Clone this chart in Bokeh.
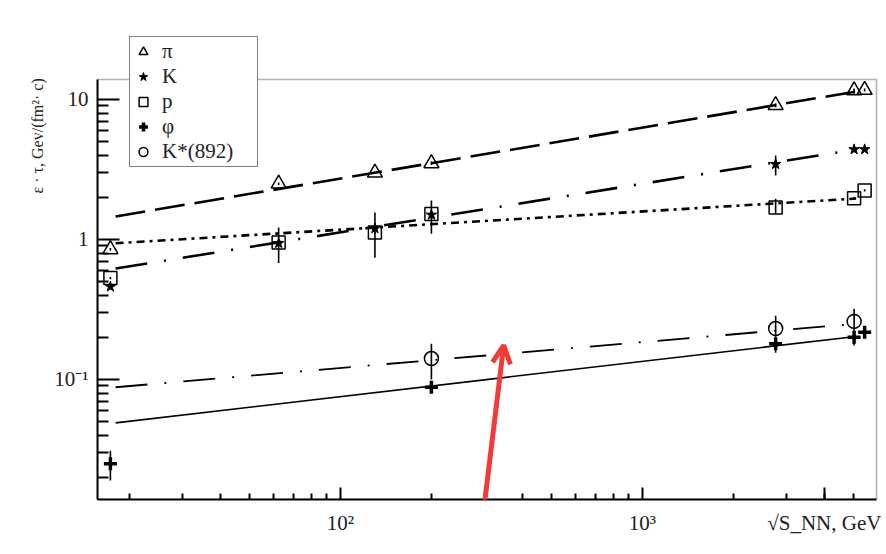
import math
from bokeh.plotting import figure
from bokeh.models import (ColumnDataSource, FixedTicker, Range1d, Legend, LegendItem,
                          LogAxis, Arrow, OpenHead, BoxAnnotation)
from bokeh.embed import file_html
from bokeh.resources import INLINE

# ---------------- data ----------------
sqrt_s = [17.3, 62.4, 130, 200, 2760, 5020, 5440]
pi_y = [0.85, 2.5, 3.0, 3.5, 9.1, 11.6, 11.7]
pi_lo = [0.83, 2.45, 2.95, 3.4, 8.8, 11.0, 11.4]
pi_hi = [0.87, 2.55, 3.05, 3.6, 9.4, 12.0, 12.0]

K_y = [0.46, 0.94, 1.2, 1.5, 3.45, 4.4, 4.4]
K_lo = [0.44, 0.68, 0.74, 1.1, 2.86, 4.2, 4.3]
K_hi = [0.48, 1.22, 1.56, 1.9, 3.98, 4.6, 4.5]

p_y = [0.53, 0.95, 1.12, 1.52, 1.69, 1.97, 2.24]
p_lo = [0.52, 0.93, 1.1, 1.48, 1.53, 1.93, 2.2]
p_hi = [0.54, 0.97, 1.14, 1.56, 1.95, 2.01, 2.28]

phi_x = [17.3, 200, 2760, 5020, 5440]
phi_y = [0.025, 0.088, 0.18, 0.2, 0.217]
phi_lo = [0.019, 0.082, 0.155, 0.175, 0.205]
phi_hi = [0.031, 0.095, 0.196, 0.225, 0.23]

kst_x = [200, 2760, 5020]
kst_y = [0.141, 0.231, 0.26]
kst_lo = [0.1, 0.2, 0.225]
kst_hi = [0.18, 0.285, 0.32]

fit_x = [18, 5100]
pi_fit = [1.46, 11.4]
K_fit = [0.62, 4.4]
p_fit = [0.94, 1.96]
kst_fit = [0.088, 0.25]
phi_fit = [0.049, 0.203]

x_major = [100, 1000]
x_major_labels = ["10\u00b2", "10\u00b3"]
y_major = [0.1, 1, 10]
y_major_labels = ["10\u207b\u00b9", "1", "10"]

x_title = "\u221aS_NN, GeV"
x_title_at = 4000
y_title = "\u03b5 \u00b7 \u03c4, Gev/(fm\u00b2\u00b7 c)"
y_title_at = 5.5

arrow_x = [286, 347]
arrow_y = [0.0056, 0.175]

# ---------------- geometry ----------------
W, H = 886, 554
X0, X1 = 15.68, 5955.0       # visible box of the plot (left/right)
Y0, Y1 = 0.01389, 13.89      # visible box of the plot (bottom/top)
FL, FR, FT, FB = 97, 876, 79, 499   # that box in page pixels

lx0, lx1 = math.log10(X0), math.log10(X1)
ly0, ly1 = math.log10(Y0), math.log10(Y1)
# the drawing frame extends to the right edge and to the top edge of the page
X1e = 10 ** (lx1 + (W - FR) / (FR - FL) * (lx1 - lx0))
Y1e = 10 ** (ly1 + FT / (FB - FT) * (ly1 - ly0))

p = figure(width=W, height=H, x_axis_type="log", y_axis_type="log",
           x_range=Range1d(X0, X1e), y_range=Range1d(Y0, Y1e),
           output_backend="svg", toolbar_location=None,
           min_border_left=FL, min_border_right=0,
           min_border_top=0, min_border_bottom=H - FB)
p.xgrid.visible = False
p.ygrid.visible = False
p.background_fill_color = "white"
p.border_fill_color = "white"
p.outline_line_color = None

FONT = "Liberation Serif"
TXT = "#222222"

xminor = [m * d for d in (10, 100, 1000) for m in range(2, 10) if X0 < m * d < X1]
yminor = [m * d for d in (0.01, 0.1, 1, 10) for m in range(2, 10) if Y0 < m * d < Y1]
p.xaxis.ticker = FixedTicker(ticks=x_major + [x_title_at], minor_ticks=xminor)
p.yaxis.ticker = FixedTicker(ticks=y_major, minor_ticks=yminor)
xl = dict(zip(x_major, x_major_labels))
xl[x_title_at] = x_title
p.xaxis.major_label_overrides = xl
p.yaxis.major_label_overrides = dict(zip(y_major, y_major_labels))
p.xaxis.bounds = (X0, X1)
p.yaxis.bounds = (Y0, Y1)

for ax in (p.xaxis, p.yaxis):
    ax.axis_line_width = 2
    ax.axis_line_color = "black"
    ax.major_tick_line_color = "black"
    ax.minor_tick_line_color = "black"
    ax.major_tick_line_width = 2
    ax.minor_tick_line_width = 2
    ax.major_tick_out = 0
    ax.minor_tick_out = 0
    ax.major_label_text_font = FONT
    ax.major_label_text_font_size = "21px"
    ax.major_label_text_color = TXT
p.xaxis.major_tick_in = 12
p.xaxis.minor_tick_in = 6
p.yaxis.major_tick_in = 22
p.yaxis.minor_tick_in = 11
p.xaxis.major_label_standoff = 11
p.yaxis.major_label_standoff = 9

# y title: the single label of an extra, bare axis, centred on its tick
ytitle_axis = LogAxis(ticker=FixedTicker(ticks=[y_title_at], minor_ticks=[]),
                      major_label_overrides={y_title_at: y_title},
                      major_label_orientation="vertical", major_label_standoff=5,
                      axis_line_color=None, major_tick_line_color=None,
                      minor_tick_line_color=None, major_tick_in=0, major_tick_out=0,
                      minor_tick_in=0, minor_tick_out=0,
                      major_label_text_font=FONT, major_label_text_font_size="16px",
                      major_label_text_color=TXT)
p.add_layout(ytitle_axis, "left")

# visible plot box
p.add_layout(BoxAnnotation(left=X0, right=X1, bottom=Y0, top=Y1, fill_color=None,
                           line_color="black", line_width=1.6))

# ---------------- fits ----------------
p.line(fit_x, pi_fit, line_color="black", line_width=2.6, line_dash="30 10")
p.line(fit_x, K_fit, line_color="black", line_width=2.6, line_dash="32 17 2 17")
p.line(fit_x, p_fit, line_color="black", line_width=2.6, line_dash="8 5 3 5")
p.line(fit_x, kst_fit, line_color="black", line_width=1.8, line_dash="32 17 2 17")
p.line(fit_x, phi_fit, line_color="black", line_width=1.6)

# ---------------- error bars ----------------
for xs, lo, hi in ((sqrt_s, pi_lo, pi_hi), (sqrt_s, K_lo, K_hi), (sqrt_s, p_lo, p_hi),
                   (phi_x, phi_lo, phi_hi), (kst_x, kst_lo, kst_hi)):
    src = ColumnDataSource(dict(x=xs, lo=lo, hi=hi))
    p.segment(x0="x", y0="lo", x1="x", y1="hi", source=src, line_color="black", line_width=1.6)

# ---------------- points ----------------
r_p = p.scatter(sqrt_s, p_y, marker="square", size=13, fill_color=None,
                line_color="black", line_width=1.5)
r_pi = p.scatter(sqrt_s, pi_y, marker="triangle", size=15, fill_color=None,
                 line_color="black", line_width=1.5)
r_K = p.scatter(sqrt_s, K_y, marker="star", size=11, fill_color="black",
                line_color="black", line_width=1)
r_kst = p.scatter(kst_x, kst_y, marker="circle", size=14, fill_color=None,
                  line_color="black", line_width=1.5)
r_phi = p.scatter(phi_x, phi_y, marker="cross", size=13, line_color="black",
                  line_width=3.5)

legend = Legend(items=[
    LegendItem(label="\u03c0", renderers=[r_pi]),
    LegendItem(label="K", renderers=[r_K]),
    LegendItem(label="p", renderers=[r_p]),
    LegendItem(label="\u03c6", renderers=[r_phi]),
    LegendItem(label="K*(892)", renderers=[r_kst]),
], location=(32, 332), margin=0, padding=2, spacing=0,
   glyph_width=22, glyph_height=25, label_standoff=8, label_width=93,
   label_text_font=FONT, label_text_font_size="21px", label_text_color=TXT,
   border_line_color="black", border_line_width=1.6, background_fill_alpha=1.0)
p.add_layout(legend, "center")

# ---------------- annotation arrow ----------------
red = "#f23a3a"
p.add_layout(Arrow(x_start=arrow_x[0], y_start=arrow_y[0], x_end=arrow_x[1], y_end=arrow_y[1],
                   line_color=red, line_width=5,
                   end=OpenHead(size=18, line_color=red, line_width=5)))

open("out.html", "w").write(file_html(p, INLINE))
